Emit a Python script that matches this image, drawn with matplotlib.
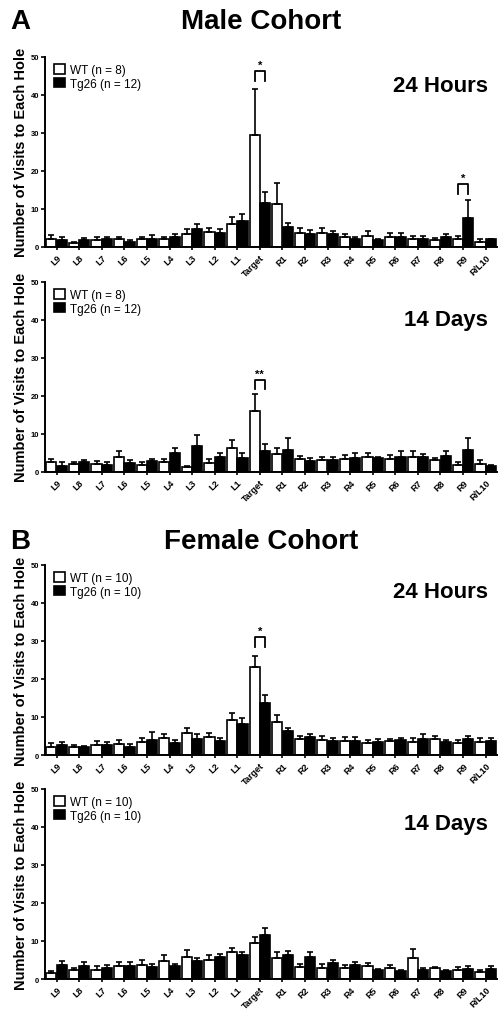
import matplotlib
matplotlib.use("Agg")
import matplotlib.pyplot as plt
import numpy as np
from matplotlib.patches import Patch

plt.rcParams["font.family"] = ["Liberation Sans", "DejaVu Sans"]
plt.rcParams["font.weight"] = "bold"

holes = ["L9", "L8", "L7", "L6", "L5", "L4", "L3", "L2", "L1", "Target",
         "R1", "R2", "R3", "R4", "R5", "R6", "R7", "R8", "R9", "R/L10"]

# male cohort, 24 hours
male_24h_wt = [2.0, 1.0, 1.8, 2.0, 2.0, 2.0, 3.3, 3.9, 6.1, 29.3, 11.3, 3.8, 3.6, 2.5, 3.0, 2.6, 2.0, 1.8, 2.0, 1.3]
male_24h_wt_sem = [1.1, 0.3, 0.8, 0.6, 0.7, 0.7, 1.3, 1.1, 1.7, 12.1, 5.6, 1.2, 1.5, 0.8, 1.2, 1.1, 0.8, 0.6, 0.9, 0.8]
male_24h_tg = [1.8, 1.9, 2.0, 1.4, 2.2, 2.6, 4.7, 3.7, 6.9, 11.5, 5.3, 3.5, 3.5, 2.2, 1.9, 2.7, 2.2, 2.6, 7.5, 2.0]
male_24h_tg_sem = [0.7, 0.5, 0.6, 0.3, 0.9, 0.7, 1.3, 0.9, 1.7, 3.0, 1.1, 0.9, 0.8, 0.4, 0.3, 1.0, 0.6, 0.8, 4.8, 0.2]

# male cohort, 14 days
male_14d_wt = [2.5, 2.0, 2.0, 4.0, 1.9, 2.5, 1.2, 2.4, 6.3, 16.1, 4.8, 3.4, 3.2, 3.3, 3.9, 3.3, 3.9, 3.1, 1.9, 2.2]
male_14d_wt_sem = [1.0, 0.6, 0.9, 1.5, 0.7, 1.0, 0.4, 0.9, 2.0, 4.3, 1.5, 0.9, 0.8, 1.1, 1.0, 1.2, 1.6, 0.6, 0.6, 1.0]
male_14d_tg = [1.6, 2.6, 1.8, 2.3, 2.8, 5.1, 6.9, 4.0, 3.8, 5.5, 5.8, 2.9, 3.2, 3.7, 3.6, 4.0, 3.9, 4.1, 5.7, 1.6]
male_14d_tg_sem = [0.9, 0.6, 0.7, 0.9, 0.6, 1.3, 2.9, 0.9, 1.1, 1.9, 3.2, 0.8, 0.8, 1.3, 0.4, 1.6, 0.7, 1.4, 3.1, 0.3]

# female cohort, 24 hours
female_24h_wt = [2.2, 2.0, 2.6, 3.0, 3.4, 4.5, 5.7, 4.8, 9.1, 23.1, 8.8, 4.1, 4.0, 3.7, 3.2, 3.7, 3.4, 4.1, 3.2, 3.4]
female_24h_wt_sem = [0.9, 0.7, 1.0, 1.0, 1.2, 1.0, 1.4, 1.0, 2.0, 2.8, 1.6, 1.0, 1.0, 1.0, 0.8, 0.6, 1.0, 1.0, 0.8, 1.0]
female_24h_tg = [2.7, 2.0, 2.6, 2.2, 4.0, 3.1, 4.1, 3.8, 8.1, 13.6, 6.4, 4.7, 3.7, 3.8, 3.4, 3.9, 4.2, 3.3, 4.1, 3.6]
female_24h_tg_sem = [0.7, 0.3, 0.8, 0.6, 2.0, 0.9, 1.4, 0.8, 1.6, 2.2, 0.7, 0.7, 0.8, 1.0, 0.7, 0.7, 1.4, 0.7, 1.0, 1.0]

# female cohort, 14 days
female_14d_wt = [1.6, 2.3, 2.4, 3.3, 3.8, 4.8, 5.9, 5.1, 7.0, 9.4, 5.5, 3.1, 3.0, 2.9, 3.3, 3.0, 5.5, 2.8, 2.4, 1.9]
female_14d_wt_sem = [0.6, 0.7, 0.9, 1.2, 1.2, 1.6, 1.7, 1.1, 1.1, 1.7, 1.7, 0.8, 0.9, 0.9, 0.8, 0.8, 2.4, 0.4, 0.8, 0.6]
female_14d_tg = [3.7, 3.5, 2.8, 3.3, 3.2, 3.5, 4.7, 5.9, 6.3, 11.7, 6.4, 5.8, 4.1, 3.7, 2.3, 2.1, 2.4, 2.2, 2.6, 2.6]
female_14d_tg_sem = [1.1, 0.9, 0.9, 1.3, 0.7, 0.5, 0.9, 0.7, 0.8, 1.8, 0.9, 1.4, 0.9, 0.8, 0.3, 0.3, 0.6, 0.2, 0.8, 0.7]

# (hole index, bracket top, label)
male_24h_sig = [(9, 46.3, "*"), (18, 16.5, "*")]
male_14d_sig = [(9, 24.3, "**")]
female_24h_sig = [(9, 31.0, "*")]
female_14d_sig = []

panels = [
    (0.7569, male_24h_wt, male_24h_wt_sem, male_24h_tg, male_24h_tg_sem, male_24h_sig, "24 Hours", 42.5, (8, 12)),
    (0.5363, male_14d_wt, male_14d_wt_sem, male_14d_tg, male_14d_tg_sem, male_14d_sig, "14 Days", 40.0, (8, 12)),
    (0.2588, female_24h_wt, female_24h_wt_sem, female_24h_tg, female_24h_tg_sem, female_24h_sig, "24 Hours", 43.0, (10, 10)),
    (0.0392, female_14d_wt, female_14d_wt_sem, female_14d_tg, female_14d_tg_sem, female_14d_sig, "14 Days", 41.0, (10, 10)),
]

fig = plt.figure(figsize=(5.04, 10.2), dpi=100)

x = np.arange(len(holes))
w = 0.45
off = 0.23

for bottom, wt, wt_sem, tg, tg_sem, sig, period, ylab, (n_wt, n_tg) in panels:
    ax = fig.add_axes([0.089, bottom, 0.897, 0.1865])
    ax.bar(x - off, wt, w, color="white", edgecolor="black", linewidth=1.2,
           yerr=[np.zeros(len(wt)), wt_sem], capsize=2,
           error_kw=dict(elinewidth=1.2, capthick=1.2, ecolor="black"))
    ax.bar(x + off, tg, w, color="black", edgecolor="black", linewidth=1.2,
           yerr=[np.zeros(len(tg)), tg_sem], capsize=2,
           error_kw=dict(elinewidth=1.2, capthick=1.2, ecolor="black"))

    for i, top, label in sig:
        ax.plot([i - off, i - off, i + off, i + off], [top - 2.6, top, top, top - 2.6],
                color="black", lw=1.3)
        ax.text(i, top + 0.3, label, ha="center", va="bottom", fontsize=8)

    ax.text(19.1, ylab, period, ha="right", va="center", fontsize=16, fontweight="bold")

    handles = [Patch(facecolor="white", edgecolor="black", linewidth=1.2),
               Patch(facecolor="black", edgecolor="black", linewidth=1.2)]
    ax.legend(handles, [f"WT (n = {n_wt})", f"Tg26 (n = {n_tg})"],
              loc="upper left", bbox_to_anchor=(0.005, 1.0), frameon=False,
              handlelength=0.9, handleheight=0.9, handletextpad=0.4,
              labelspacing=0.15, borderaxespad=0.2,
              prop=dict(size=8.5, weight="normal"))

    ax.set_xlim(-0.52, 19.5)
    ax.set_ylim(0, 50)
    ax.set_yticks([0, 10, 20, 30, 40, 50])
    ax.set_xticks(x)
    ax.set_xticklabels(holes, rotation=45, ha="right", rotation_mode="anchor", fontsize=6.5)
    ax.tick_params(axis="y", labelsize=5.5, length=3, width=1.2, pad=1)
    ax.tick_params(axis="x", length=2, width=1.2, pad=2)
    for s in ["top", "right"]:
        ax.spines[s].set_visible(False)
    for s in ["left", "bottom"]:
        ax.spines[s].set_linewidth(1.4)
    ax.set_ylabel("Number of Visits to Each Hole", fontsize=10.5, fontweight="bold", labelpad=2)

fig.text(0.02, 0.978, "A", fontsize=20, fontweight="bold", va="center")
fig.text(0.518, 0.978, "Male Cohort", fontsize=20, fontweight="bold", va="center", ha="center")
fig.text(0.02, 0.469, "B", fontsize=20, fontweight="bold", va="center")
fig.text(0.518, 0.469, "Female Cohort", fontsize=20, fontweight="bold", va="center", ha="center")

fig.savefig("out.png", dpi=100)
